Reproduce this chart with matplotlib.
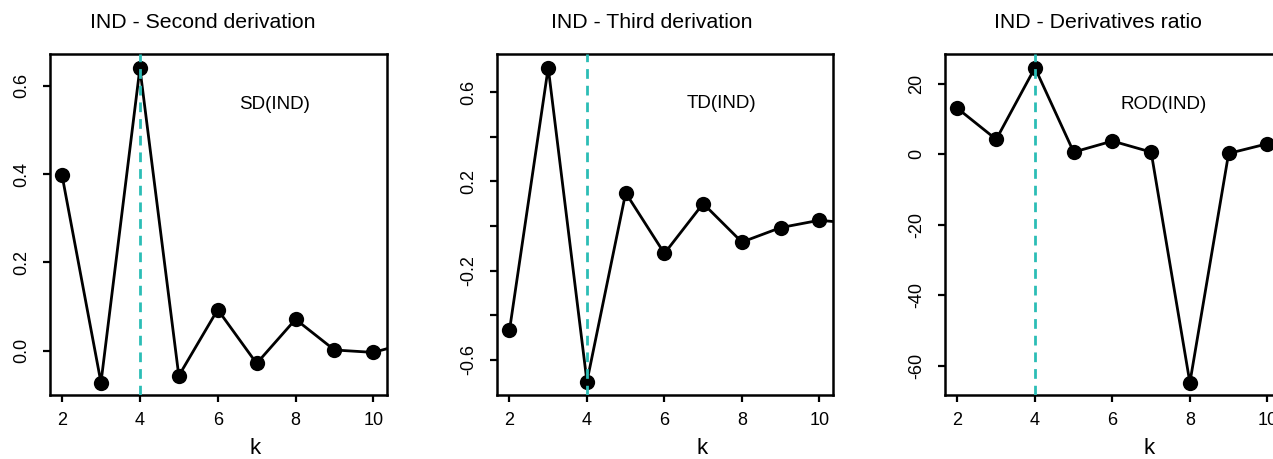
import matplotlib
matplotlib.use("Agg")
import matplotlib.pyplot as plt

plt.rcParams['font.family'] = ['Liberation Sans', 'DejaVu Sans']

k = [2, 3, 4, 5, 6, 7, 8, 9, 10, 11]
sd_values = [0.397, -0.0725, 0.640, -0.057, 0.093, -0.029, 0.071, 0.0015, -0.004, 0.02]
td_values = [-0.468, 0.711, -0.698, 0.149, -0.123, 0.101, -0.072, -0.007, 0.026, 0.01]
k_rod = [2, 3, 4, 5, 6, 7, 8, 9, 10]
rod_values = [12.97, 4.17, 24.5, 0.57, 3.7, 0.57, -64.85, 0.19, 2.93]

titles = ["IND - Second derivation", "IND - Third derivation", "IND - Derivatives ratio"]
labels = ["SD(IND)", "TD(IND)", "ROD(IND)"]
best_k = 4

W, H = 1273, 459
fig = plt.figure(figsize=(W / 100, H / 100), dpi=100)

panels = [
    dict(left=50, x=k, y=sd_values, ylim=(-0.1005, 0.672), xlim=(1.69, 10.34),
         yticks=[0.0, 0.2, 0.4, 0.6], ylabels=["0.0", "0.2", "0.4", "0.6"],
         txt=(7.45, 0.557), title_x=202.5, k_x=255),
    dict(left=496.7, x=k, y=td_values, ylim=(-0.758, 0.772), xlim=(1.67, 10.36),
         yticks=[-0.6, -0.4, -0.2, 0.0, 0.2, 0.4, 0.6],
         ylabels=["-0.6", "", "-0.2", "", "0.2", "", "0.6"],
         txt=(7.48, 0.548), title_x=652, k_x=701.7),
    dict(left=944.7, x=k_rod, y=rod_values, ylim=(-68.35, 28.4), xlim=(1.67, 10.36),
         yticks=[-60, -40, -20, 0, 20], ylabels=["-60", "-40", "-20", "0", "20"],
         txt=(7.33, 14.2), title_x=1098.3, k_x=1149),
]

width_px = 336.6
top_px, bot_px = 54, 395

for i, p in enumerate(panels):
    ax = fig.add_axes([p['left'] / W, (H - bot_px) / H, width_px / W, (bot_px - top_px) / H])
    ax.plot(p['x'], p['y'], color='black', lw=2.0, marker='o', markersize=11,
            markeredgewidth=0, zorder=3)
    ax.axvline(best_k, color='#2BBDB6', lw=2.0, ls=(0, (3.5, 2.5)), zorder=4)
    ax.set_xlim(*p['xlim'])
    ax.set_ylim(*p['ylim'])
    ax.set_xticks([2, 4, 6, 8, 10])
    ax.set_xticklabels(["2", "4", "6", "8", "10"])
    ax.set_yticks(p['yticks'])
    ax.set_yticklabels(p['ylabels'])
    for s in ax.spines.values():
        s.set_linewidth(1.8)
    ax.tick_params(axis='both', direction='out', length=5, width=1.6, labelsize=13)
    ax.tick_params(axis='x', pad=7)
    ax.tick_params(axis='y', pad=9)
    for lab in ax.get_yticklabels():
        lab.set_rotation(90)
        lab.set_va('center')
    ax.text(p['txt'][0], p['txt'][1], labels[i], ha='center', va='center', fontsize=13.5)
    fig.text(p['title_x'] / W, 1 - 23 / H, titles[i], ha='center', va='center', fontsize=15.3)
    fig.text(p['k_x'] / W, 1 - 448 / H, "k", ha='center', va='center', fontsize=16)

fig.savefig("out.png", dpi=100)
